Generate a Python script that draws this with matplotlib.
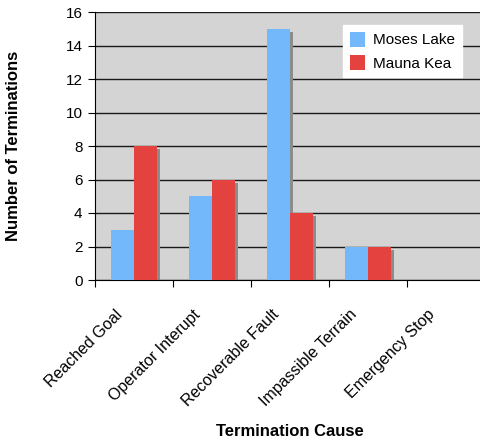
import matplotlib
matplotlib.use("Agg")
from matplotlib import pyplot as plt
import matplotlib.transforms as mtransforms
import numpy as np

causes = ["Reached Goal", "Operator Interupt", "Recoverable Fault", "Impassible Terrain", "Emergency Stop"]
moses_lake = [3, 5, 15, 2, 0]
mauna_kea = [8, 6, 4, 2, 0]

plt.rcParams['font.family'] = ['Liberation Sans', 'DejaVu Sans']

fig = plt.figure(figsize=(4.8, 4.42), dpi=100)
ax = fig.add_axes([95/480, 162/442, 390/480, 268/442])
ax.set_facecolor('#d4d4d4')

x = np.arange(len(causes))
w = 0.295

# drop shadow behind bars
shadow = ax.transData + mtransforms.ScaledTranslation(3/100, -3/100, fig.dpi_scale_trans)
for vals, off in [(moses_lake, -w/2), (mauna_kea, w/2)]:
    ax.bar(x + off, vals, w, color='#8c8c8c', zorder=2, transform=shadow, clip_on=True)

ax.bar(x - w/2, moses_lake, w, color='#74b8fc', label='Moses Lake', zorder=3)
ax.bar(x + w/2, mauna_kea, w, color='#e3423f', label='Mauna Kea', zorder=3)

ax.set_ylim(0, 16)
ax.set_xlim(-0.5, len(causes) - 0.5)
ax.set_yticks(range(0, 17, 2))
ax.yaxis.grid(True, color='#1a1a1a', linewidth=1.0, zorder=1)
ax.set_axisbelow(True)

ax.set_xticks(np.arange(len(causes) + 1) - 0.5)
ax.set_xticklabels([])
ax.set_xticks(x, minor=True)
ax.set_xticklabels(causes, minor=True, rotation=45, ha='right', rotation_mode='anchor', fontsize=11.5)
ax.tick_params(axis='x', which='minor', length=0, pad=8)
ax.tick_params(axis='x', which='major', length=5, direction='out', color='black')
ax.tick_params(axis='y', length=5, direction='out', labelsize=11, pad=4)
offset = mtransforms.ScaledTranslation(-19/100, -16/100, fig.dpi_scale_trans)
for lab in ax.get_xticklabels(minor=True):
    lab.set_transform(lab.get_transform() + offset)

for s in ['top', 'right']:
    ax.spines[s].set_visible(False)
ax.spines['left'].set_color('black')
ax.spines['bottom'].set_color('black')

ax.set_ylabel("Number of Terminations", fontsize=12, fontweight='bold')
ax.yaxis.set_label_coords((14 - 95) / 390, 0.5)
ax.yaxis.label.set_va('center')
ax.set_xlabel("Termination Cause", fontsize=12, fontweight='bold')
ax.xaxis.set_label_coords((290 - 95) / 390, (280 - 432) / 268)
ax.xaxis.label.set_va('center')

leg = ax.legend(loc='upper right', bbox_to_anchor=((462 - 95) / 390, (280 - 25) / 268),
                frameon=True, fancybox=False, framealpha=1, edgecolor='white',
                fontsize=11, handlelength=1.0, handleheight=1.1, handletextpad=0.5,
                borderpad=0.45, labelspacing=0.5, borderaxespad=0)

fig.savefig("out.png", dpi=100)
